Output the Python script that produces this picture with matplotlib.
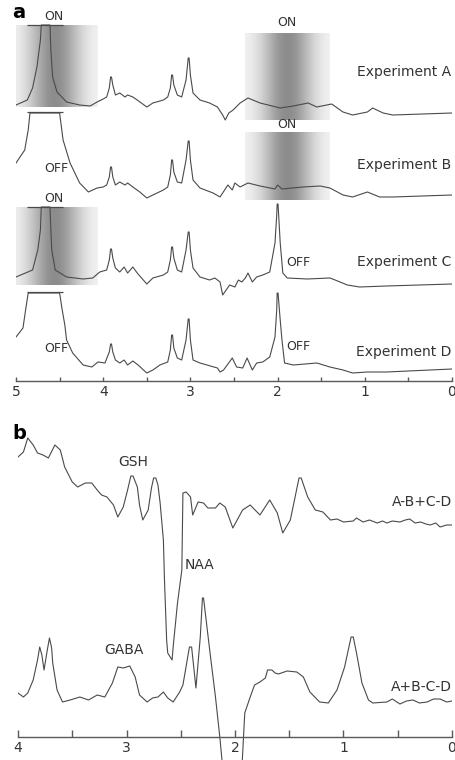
import numpy as np
import matplotlib.pyplot as plt

# ===============================
# Data (ppm, signal)
# ===============================
# Panel a: four edited spectra, 5..0 ppm
ppm_A = [5.0, 4.87, 4.81, 4.76, 4.72, 4.71, 4.61, 4.60, 4.58, 4.53, 4.42, 4.27, 4.15, 4.07,
         4.00, 3.96, 3.93, 3.915, 3.905, 3.89, 3.86, 3.81, 3.75, 3.72, 3.66, 3.61, 3.50, 3.43,
         3.31, 3.26, 3.23, 3.215, 3.205, 3.19, 3.15, 3.10, 3.05, 3.025, 3.015, 3.00, 2.97, 2.89,
         2.78, 2.69, 2.63, 2.60, 2.56, 2.51, 2.43, 2.34, 2.20, 1.97, 1.82, 1.65, 1.55, 1.38,
         1.25, 1.14, 0.97, 0.91, 0.79, 0.68, 0.0]
sig_A = [1, 6, 18, 39, 66, 81, 81, 56, 29, 14, 4, 1, 0, 4,
         7, 9, 18, 29, 29, 21, 11, 13, 9, 11, 9, 6, -1, 3,
         6, 9, 18, 31, 31, 21, 11, 9, 26, 48, 48, 31, 13, 6,
         3, -1, -9, -14, -7, -4, 3, 8, 3, -2, 0, 3, -1, 2,
         -6, -9, -6, -2, -7, -9, -7]

ppm_B = [5.0, 4.90, 4.86, 4.84, 4.50, 4.46, 4.38, 4.27, 4.17, 4.07, 4.00, 3.96, 3.93, 3.915,
         3.905, 3.89, 3.86, 3.81, 3.75, 3.72, 3.66, 3.58, 3.50, 3.43, 3.31, 3.26, 3.23, 3.215,
         3.205, 3.19, 3.15, 3.10, 3.05, 3.025, 3.015, 3.00, 2.97, 2.89, 2.74, 2.66, 2.57, 2.52,
         2.49, 2.43, 2.34, 2.20, 2.03, 2.00, 1.95, 1.71, 1.51, 1.40, 1.25, 1.14, 0.97, 0.83,
         0.68, 0.0]
sig_B = [24, 37, 57, 74, 74, 47, 24, 4, -5, -1, 0, 2, 10, 20,
         20, 10, 2, 5, 2, 4, 0, -5, -11, -8, -3, 0, 12, 27,
         27, 15, 5, 4, 27, 46, 46, 27, 7, -1, -6, -10, 2, -3,
         4, 0, 4, 1, -2, 2, -2, 0, 1, -1, -8, -10, -5, -10,
         -10, -8]

ppm_C = [5.0, 4.81, 4.75, 4.72, 4.71, 4.61, 4.60, 4.59, 4.55, 4.42, 4.23, 4.12, 4.04, 3.96,
         3.93, 3.915, 3.905, 3.89, 3.86, 3.81, 3.76, 3.72, 3.66, 3.61, 3.50, 3.43, 3.31, 3.26,
         3.23, 3.215, 3.205, 3.19, 3.15, 3.10, 3.05, 3.025, 3.015, 3.00, 2.97, 2.89, 2.78, 2.72,
         2.66, 2.63, 2.55, 2.49, 2.45, 2.41, 2.37, 2.34, 2.29, 2.24, 2.17, 2.09, 2.03, 2.01,
         2.005, 1.995, 1.97, 1.94, 1.89, 1.66, 1.40, 1.34, 1.20, 1.06, 0.75, 0.0]
sig_C = [1, 8, 28, 48, 71, 71, 48, 28, 8, 1, -1, 0, 6, 8,
         18, 29, 29, 20, 10, 6, 11, 5, 11, 5, -6, 0, 3, 6,
         18, 31, 31, 20, 8, 6, 28, 46, 46, 28, 10, 1, -2, 0,
         -4, -17, -7, -9, -2, -4, 0, 5, -4, 1, 3, 6, 35, 63,
         74, 74, 35, 5, 0, -1, 0, -2, -7, -9, -8, -6]

ppm_D = [5.0, 4.92, 4.89, 4.86, 4.50, 4.47, 4.44, 4.42, 4.35, 4.23, 4.13, 4.06, 3.98, 3.93,
         3.915, 3.905, 3.89, 3.86, 3.81, 3.76, 3.72, 3.66, 3.60, 3.50, 3.43, 3.35, 3.26, 3.23,
         3.215, 3.205, 3.19, 3.15, 3.10, 3.05, 3.025, 3.015, 3.00, 2.97, 2.89, 2.69, 2.66, 2.62,
         2.52, 2.47, 2.40, 2.35, 2.29, 2.24, 2.17, 2.09, 2.03, 2.01, 2.005, 1.995, 1.97, 1.95,
         1.92, 1.82, 1.55, 1.40, 1.25, 1.14, 0.97, 0.75, 0.0]
sig_D = [28, 37, 55, 72, 72, 55, 40, 25, 12, 0, -2, 3, 2, 13,
         21, 21, 13, 5, 2, 5, 0, 4, 0, -8, -5, 0, 3, 15,
         30, 30, 17, 7, 5, 25, 46, 46, 25, 5, 2, -3, -7, -5,
         7, -2, -3, 7, -5, 2, 3, 8, 28, 55, 72, 72, 45, 25,
         2, 0, 2, -2, -5, -8, -7, -7, -4]

# Panel b: difference spectra, 4..0 ppm
ppm_odd = [4.00, 3.95, 3.91, 3.86, 3.82, 3.77, 3.72, 3.66, 3.61, 3.57, 3.50, 3.45, 3.38, 3.32,
           3.27, 3.23, 3.18, 3.12, 3.08, 3.03, 2.99, 2.96, 2.94, 2.90, 2.88, 2.85, 2.80, 2.77,
           2.75, 2.73, 2.71, 2.69, 2.66, 2.65, 2.63, 2.62, 2.58, 2.57, 2.53, 2.49, 2.48, 2.45,
           2.41, 2.39, 2.34, 2.29, 2.25, 2.18, 2.14, 2.09, 2.02, 1.93, 1.86, 1.77, 1.68, 1.61,
           1.56, 1.49, 1.41, 1.39, 1.33, 1.26, 1.19, 1.12, 1.06, 1.00, 0.91, 0.88, 0.82, 0.76,
           0.69, 0.64, 0.60, 0.55, 0.48, 0.43, 0.39, 0.34, 0.29, 0.24, 0.20, 0.15, 0.11, 0.05,
           0.00]
sig_odd = [65, 70, 84, 77, 69, 67, 64, 77, 72, 55, 40, 35, 39, 39,
           32, 27, 25, 17, 5, 15, 32, 46, 46, 35, 17, 2, 12, 34,
           44, 44, 37, 19, -18, -58, -118, -131, -138, -125, -81, -48, 29, 30,
           25, 7, 20, 19, 14, 14, 19, 15, -6, 12, 17, 7, 22, 9,
           -11, 2, 44, 44, 25, 12, 10, 2, 3, 0, 1, 4, 0, 2,
           -1, 1, -1, 1, 0, 2, 3, -1, 0, -2, -3, -1, -5, -3,
           -3]

ppm_even = [4.00, 3.95, 3.91, 3.86, 3.82, 3.80, 3.78, 3.76, 3.73, 3.71, 3.69, 3.68, 3.64, 3.59,
            3.52, 3.43, 3.35, 3.27, 3.20, 3.13, 3.08, 3.03, 2.97, 2.92, 2.88, 2.81, 2.76, 2.71,
            2.66, 2.62, 2.57, 2.51, 2.48, 2.42, 2.40, 2.36, 2.32, 2.30, 2.29, 2.23, 2.18, 2.14,
            2.12, 2.09, 1.95, 1.93, 1.91, 1.86, 1.82, 1.77, 1.72, 1.70, 1.66, 1.63, 1.60, 1.52,
            1.43, 1.37, 1.31, 1.22, 1.14, 1.06, 0.99, 0.93, 0.91, 0.88, 0.83, 0.77, 0.73, 0.60,
            0.55, 0.48, 0.42, 0.36, 0.30, 0.23, 0.17, 0.11, 0.05, 0.00]
sig_even = [7, 3, 7, 20, 40, 53, 45, 30, 50, 62, 52, 37, 10, -2,
            0, 3, 0, 5, 3, 17, 33, 32, 34, 23, 5, -2, 2, 3,
            8, 2, -2, 8, 15, 53, 53, 12, 63, 102, 102, 47, 3, -37,
            -60, -90, -90, -55, -13, 3, 15, 18, 22, 30, 30, 27, 26, 29,
            28, 23, 8, -2, -3, 10, 33, 63, 63, 47, 17, 0, -3, -2,
            1, -4, -1, 0, -3, -2, 1, 1, -2, -1]

# labels
spectra_a = [("Experiment A", ppm_A, sig_A), ("Experiment B", ppm_B, sig_B),
             ("Experiment C", ppm_C, sig_C), ("Experiment D", ppm_D, sig_D)]
spectra_b = [("A-B+C-D", ppm_odd, sig_odd), ("A+B-C-D", ppm_even, sig_even)]

# ===============================
# Layout (pixels of the 456x760 figure)
# ===============================
W, H = 456, 760
LINE = "#4a4a4a"
AXC = "#5a5a5a"
plt.rcParams["font.family"] = "DejaVu Sans"

offsets_a = [275, 194, 103, 16]
offsets_b = [215, 37]


def fx(x):
    return x / W


def fy(y):
    return 1 - y / H


fig = plt.figure(figsize=(W / 100, H / 100), dpi=100)

# ===============================
# Panel a
# ===============================
ax_a = fig.add_axes([fx(16), fy(381), (452 - 16) / W, 381 / H])

# gradient boxes (saturation bands)
t = np.linspace(-1, 1, 200)
grad = 0.97 - 0.42 * np.exp(-(t / 0.6) ** 2)
grad = np.tile(grad, (10, 1))
boxes = [(5.05, 4.07, 274, 356), (2.37, 1.40, 261, 348),
         (2.37, 1.40, 181, 249), (5.05, 4.07, 96, 174)]
for x0, x1, y0, y1 in boxes:
    ax_a.imshow(grad, cmap="gray", vmin=0, vmax=1, extent=(x0, x1, y0, y1),
                aspect="auto", zorder=0, interpolation="bilinear")

for (name, ppm, sig), off in zip(spectra_a, offsets_a):
    ax_a.plot(ppm, np.array(sig) + off, color=LINE, lw=0.8, zorder=2)

# clipped water peaks
for h in [356, 269, 174, 89]:
    ax_a.hlines(h, 4.87, 4.46, color=LINE, lw=0.9, zorder=2)

ax_a.set_xlim(5, 0)
ax_a.set_ylim(0, 381)

# ===============================
# Panel b
# ===============================
ax_b = fig.add_axes([fx(18), 0, (452 - 18) / W, (760 - 430) / H])

for (name, ppm, sig), off in zip(spectra_b, offsets_b):
    ax_b.plot(ppm, np.array(sig) + off, color=LINE, lw=0.8)

ax_b.set_xlim(4, 0)
ax_b.set_ylim(-23, 307)
ax_b.spines["bottom"].set_position(("data", 0))

# axes styling
for ax, top, tl in [(ax_a, 5, 3.0), (ax_b, 4, 5.0)]:
    for s in ["top", "left", "right"]:
        ax.spines[s].set_visible(False)
    ax.spines["bottom"].set_color(AXC)
    ax.spines["bottom"].set_linewidth(1.0)
    ticks = np.arange(0, top + 0.01, 0.5)
    ax.set_xticks(ticks)
    ax.set_xticklabels([f"{v:.0f}" if v == int(v) else "" for v in ticks])
    ax.tick_params(axis="x", direction="in", length=tl, width=1.0, color=AXC,
                   pad=3, labelsize=10, labelcolor="#333333")
    ax.set_yticks([])
    ax.patch.set_alpha(0)

# ===============================
# Text
# ===============================
fig.text(fx(19), fy(13), "a", fontsize=14, fontweight="bold", ha="center", va="center")
fig.text(fx(19), fy(433), "b", fontsize=14, fontweight="bold", ha="center", va="center")

tk = dict(fontsize=9, color="#333333", ha="center", va="center")
fig.text(fx(54), fy(16), "ON", **tk)
fig.text(fx(287), fy(22), "ON", **tk)
fig.text(fx(287), fy(125), "ON", **tk)
fig.text(fx(56), fy(168), "OFF", **tk)
fig.text(fx(54), fy(199), "ON", **tk)
fig.text(fx(298), fy(262), "OFF", **tk)
fig.text(fx(56), fy(348), "OFF", **tk)
fig.text(fx(298), fy(347), "OFF", **tk)

ex_y = [72, 165, 262, 352]
for (name, _, _), y in zip(spectra_a, ex_y):
    fig.text(fx(451), fy(y), name, fontsize=10, color="#333333", ha="right", va="center")

fig.text(fx(133), fy(462), "GSH", **{**tk, "fontsize": 10})
fig.text(fx(200), fy(565), "NAA", **{**tk, "fontsize": 10})
fig.text(fx(124), fy(650), "GABA", **{**tk, "fontsize": 10})
for (name, _, _), y in zip(spectra_b, [502, 687]):
    fig.text(fx(452), fy(y), name, fontsize=10, color="#333333", ha="right", va="center")

fig.savefig("out.png", dpi=100)
